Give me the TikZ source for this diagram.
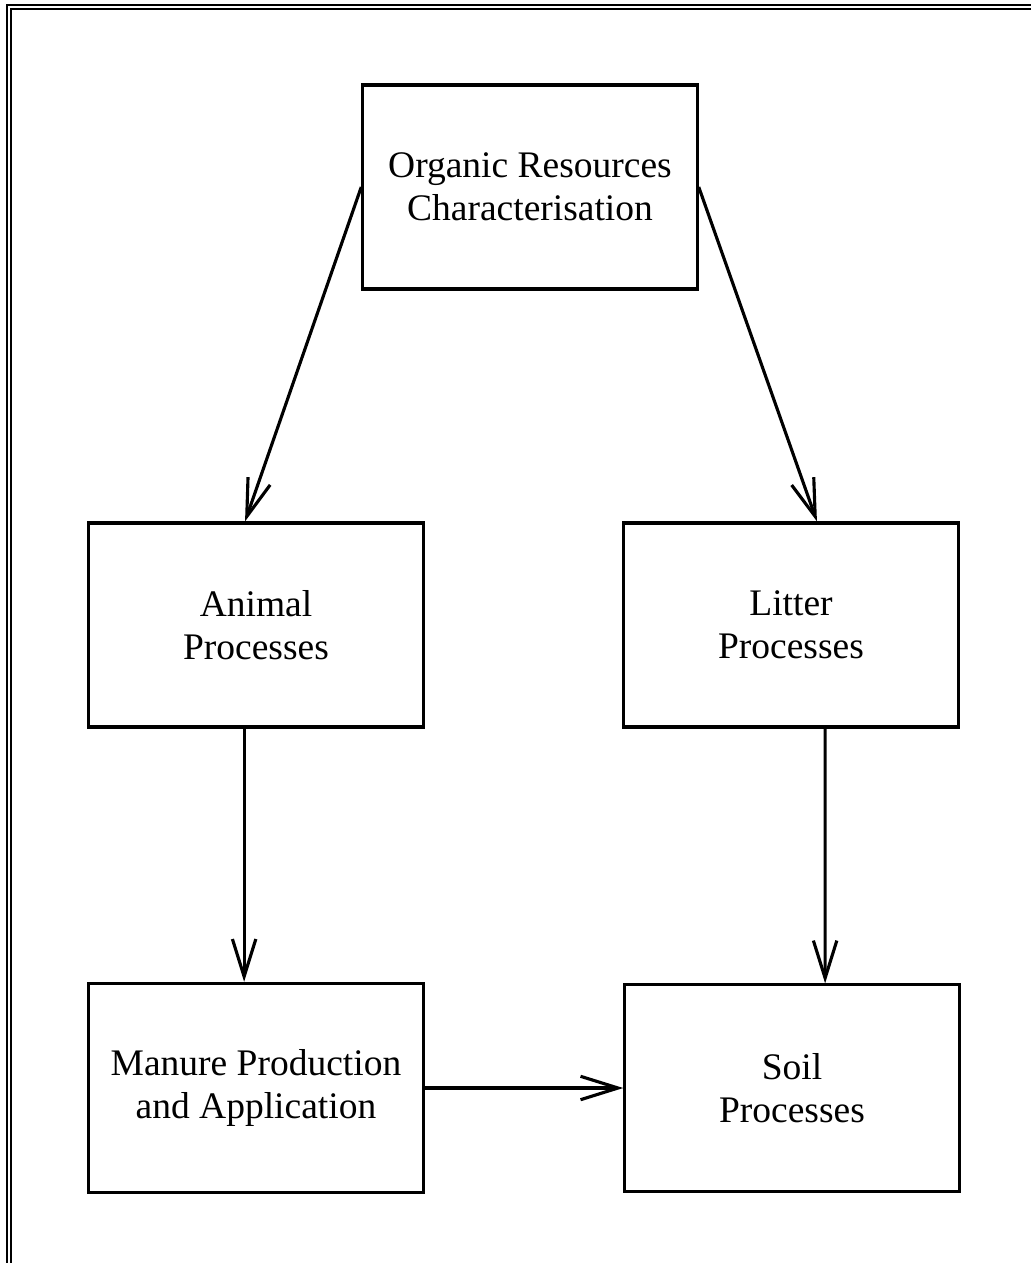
\documentclass[tikz,border=0pt]{standalone}
\usepackage{fontspec}
\setmainfont{Liberation Serif}
\usepackage{tikz}
\usetikzlibrary{arrows.meta}

\begin{document}
\begin{tikzpicture}[x=0.32pt, y=-0.32pt,
    every node/.style={font=\fontsize{12}{13.8}\selectfont},
    procbox/.style={draw, line width=1pt, align=center, inner sep=0pt,
                    minimum width=107pt, minimum height=65.3pt},
    flow/.style={line width=1pt, -{Straight Barb[length=12pt, width=7.5pt, line width=1pt]}}]
    \useasboundingbox (0,0) rectangle (1031,1263);
    \clip (0,0) rectangle (1031,1263);

    % --- Marco doble ---
    \draw[line width=0.65pt] (7,1280) -- (7,5) -- (1050,5);
    \draw[line width=0.65pt] (11,1280) -- (11,9) -- (1050,9);

    % --- Cajas ---
    \node[procbox] (organic) at (530,187) {Organic Resources\\Characterisation};
    \node[procbox] (animal)  at (256,625) {Animal\\Processes};
    \node[procbox] (litter)  at (791,625) {Litter\\Processes};
    \node[procbox, minimum height=67pt] (manure) at (256,1088) {Manure Production\\and Application};
    \node[procbox, minimum height=66pt] (soil)   at (792,1088) {Soil\\Processes};

    % --- Flechas ---
    \draw[flow] (organic.west) -- ([xshift=-3.5pt]animal.north);
    \draw[flow] (organic.east) -- ([xshift=8.3pt]litter.north);
    \draw[flow] ([xshift=-3.8pt]animal.south) -- ([xshift=-3.8pt]manure.north);
    \draw[flow] ([xshift=10.9pt]litter.south) -- ([xshift=10.6pt]soil.north);
    \draw[flow] (manure.east) -- (soil.west);

\end{tikzpicture}
\end{document}
